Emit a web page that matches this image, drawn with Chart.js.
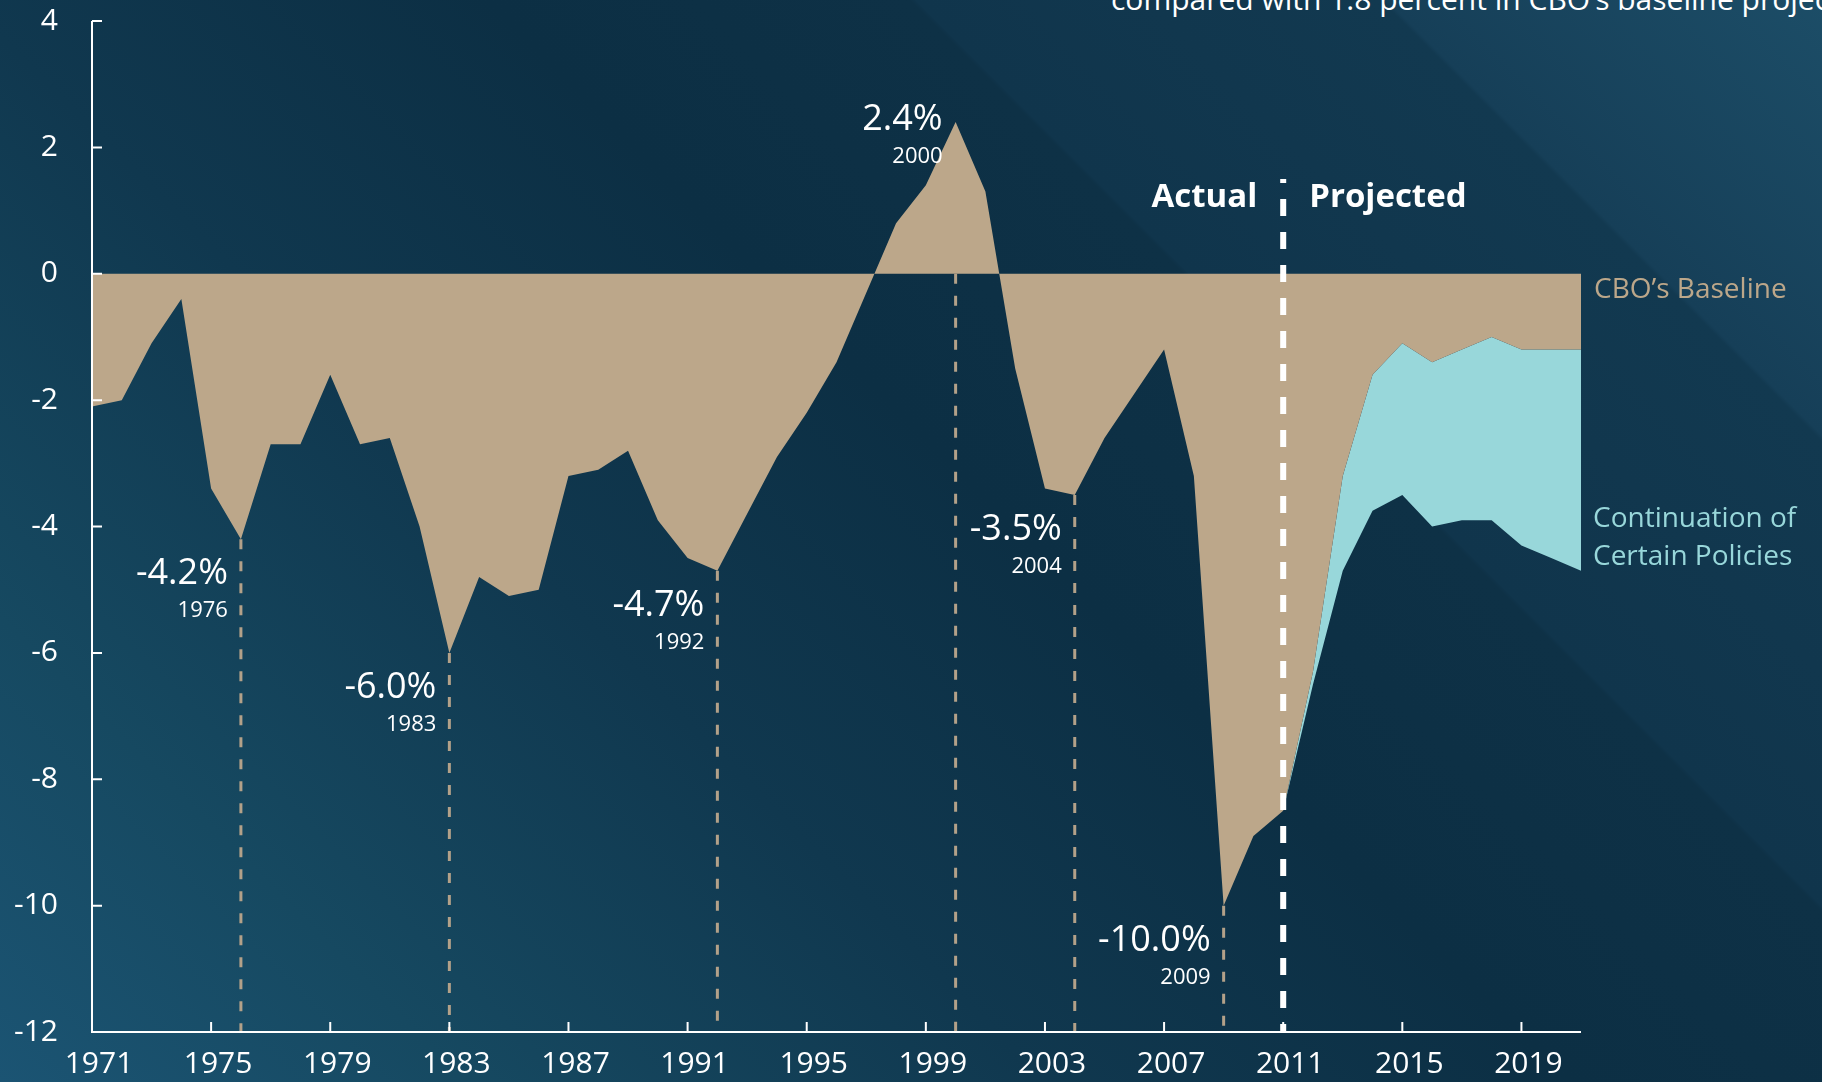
<!DOCTYPE html>
<html>
<head>
<meta charset="utf-8">
<title>Deficit as a share of GDP</title>
<script src="https://cdn.jsdelivr.net/npm/chart.js@4.4.1/dist/chart.umd.min.js"></script>
<style>
html, body { margin: 0; padding: 0; }
body {
    width: 1822px;
    height: 1082px;
    overflow: hidden;
    font-family: "Open Sans", sans-serif;
    background: linear-gradient(45deg, #1b5473 0%, #164961 16%, #10384f 36%, #0c2f44 54%, #0e3146 68.6%, #10354c 68.8%, #123950 84.8%, #163f58 85%, #1c4d67 100%);
}
#wrap { position: relative; width: 1822px; height: 1082px; }
#subtitle {
    position: absolute;
    left: 1111px;
    top: -22px;
    color: #ffffff;
    font-size: 30px;
    white-space: nowrap;
}
canvas { position: absolute; left: 0; top: 0; }
</style>
</head>
<body>
<div id="wrap">
    <div id="subtitle">compared with 1.8 percent in CBO’s baseline projections</div>
    <canvas id="deficit-chart" width="1822" height="1082"></canvas>
</div>
<script>
const years = [
    1971, 1972, 1973, 1974, 1975, 1976, 1977, 1978, 1979, 1980,
    1981, 1982, 1983, 1984, 1985, 1986, 1987, 1988, 1989, 1990,
    1991, 1992, 1993, 1994, 1995, 1996, 1997, 1998, 1999, 2000,
    2001, 2002, 2003, 2004, 2005, 2006, 2007, 2008, 2009, 2010,
    2011, 2012, 2013, 2014, 2015, 2016, 2017, 2018, 2019, 2020, 2021
];

// CBO's baseline, percent of GDP (actual through 2010)
const baseline = [
    -2.1, -2.0, -1.1, -0.4, -3.4, -4.2, -2.7, -2.7, -1.6, -2.7,
    -2.6, -4.0, -6.0, -4.8, -5.1, -5.0, -3.2, -3.1, -2.8, -3.9,
    -4.5, -4.7, -3.8, -2.9, -2.2, -1.4, -0.3, 0.8, 1.4, 2.4,
    1.3, -1.5, -3.4, -3.5, -2.6, -1.9, -1.2, -3.2, -10.0, -8.9,
    -8.5, -6.3, -3.2, -1.6, -1.1, -1.4, -1.2, -1.0, -1.2, -1.2, -1.2
];

// continuation of certain policies, projected years only
const continuation = [
    null, null, null, null, null, null, null, null, null, null,
    null, null, null, null, null, null, null, null, null, null,
    null, null, null, null, null, null, null, null, null, null,
    null, null, null, null, null, null, null, null, null, null,
    -8.5, -6.5, -4.7, -3.75, -3.5, -4.0, -3.9, -3.9, -4.3, -4.5, -4.7
];

const yTicks = [4, 2, 0, -2, -4, -6, -8, -10, -12];

const calloutYears = [1976, 1983, 1992, 2000, 2004, 2009];
const calloutText = ['-4.2%', '-6.0%', '-4.7%', '2.4%', '-3.5%', '-10.0%'];

const firstProjected = 2011;

const TAN = '#bca78a';
const TEAL = '#98d7da';
const FONT = '"Open Sans", sans-serif';

const overlay = {
    id: 'overlay',
    afterDatasetsDraw(chart) {
        const ctx = chart.ctx;
        const area = chart.chartArea;
        const x = chart.scales.x;
        const y = chart.scales.y;
        const zero = y.getPixelForValue(0);

        ctx.save();

        // dashed drop lines under the callouts
        ctx.strokeStyle = '#b3a189';
        ctx.lineWidth = 3;
        ctx.setLineDash([10, 12]);
        calloutYears.forEach(yr => {
            const i = years.indexOf(yr);
            const px = x.getPixelForValue(i);
            const py = Math.max(y.getPixelForValue(baseline[i]), zero);
            ctx.beginPath();
            ctx.moveTo(px, py);
            ctx.lineTo(px, area.bottom);
            ctx.stroke();
        });

        // actual / projected divider
        const dx = x.getPixelForValue(years.indexOf(firstProjected));
        ctx.strokeStyle = '#ffffff';
        ctx.lineWidth = 6;
        ctx.setLineDash([17, 16]);
        ctx.lineDashOffset = 9;
        ctx.beginPath();
        ctx.moveTo(dx, area.bottom);
        ctx.lineTo(dx, y.getPixelForValue(1.5));
        ctx.stroke();
        ctx.setLineDash([]);
        ctx.lineDashOffset = 0;

        // axes with inner ticks
        ctx.strokeStyle = '#ffffff';
        ctx.lineWidth = 2;
        ctx.beginPath();
        ctx.moveTo(area.left, area.top);
        ctx.lineTo(area.left, area.bottom);
        ctx.lineTo(area.right, area.bottom);
        yTicks.forEach(v => {
            const py = y.getPixelForValue(v);
            ctx.moveTo(area.left, py);
            ctx.lineTo(area.left + 10, py);
        });
        years.forEach((yr, i) => {
            if (i > 0 && (yr - years[0]) % 4 === 0) {
                const px = x.getPixelForValue(i);
                ctx.moveTo(px, area.bottom);
                ctx.lineTo(px, area.bottom - 10);
            }
        });
        ctx.stroke();

        ctx.restore();
    },
    afterDraw(chart) {
        const ctx = chart.ctx;
        const area = chart.chartArea;
        const x = chart.scales.x;
        const y = chart.scales.y;

        ctx.save();
        ctx.fillStyle = '#ffffff';
        ctx.textBaseline = 'middle';
        ctx.textAlign = 'right';

        calloutYears.forEach((yr, k) => {
            const i = years.indexOf(yr);
            const px = x.getPixelForValue(i) - 13;
            const py = y.getPixelForValue(baseline[i]);
            const cy = baseline[i] > 0 ? py - 2 : py + 35;
            ctx.font = '36px ' + FONT;
            ctx.fillText(calloutText[k], px, cy);
            ctx.font = '22px ' + FONT;
            ctx.fillText(String(yr), px, cy + 37);
        });

        // actual / projected headings
        const dx = x.getPixelForValue(years.indexOf(firstProjected));
        const hy = y.getPixelForValue(1.2);
        ctx.font = 'bold 33px ' + FONT;
        ctx.textAlign = 'right';
        ctx.fillText('Actual', dx - 26, hy);
        ctx.textAlign = 'left';
        ctx.fillText('Projected', dx + 26, hy);

        // series labels
        ctx.font = '28px ' + FONT;
        ctx.fillStyle = TAN;
        ctx.fillText('CBO’s Baseline', area.right + 13, y.getPixelForValue(-0.26));
        ctx.fillStyle = TEAL;
        const ly = y.getPixelForValue(-3.88);
        ctx.fillText('Continuation of', area.right + 12, ly);
        ctx.fillText('Certain Policies', area.right + 12, ly + 38);

        ctx.restore();
    }
};

const ctx = document.getElementById('deficit-chart').getContext('2d');
const deficitChart = new Chart(ctx, {
    type: 'line',
    data: {
        labels: years,
        datasets: [
            {
                label: 'CBO’s Baseline',
                data: baseline,
                fill: 'origin',
                backgroundColor: TAN,
                borderColor: 'rgba(0,0,0,0)',
                borderWidth: 0,
                pointRadius: 0,
                tension: 0
            },
            {
                label: 'Continuation of Certain Policies',
                data: continuation,
                fill: '-1',
                backgroundColor: TEAL,
                borderColor: 'rgba(0,0,0,0)',
                borderWidth: 0,
                pointRadius: 0,
                tension: 0
            }
        ]
    },
    options: {
        responsive: false,
        maintainAspectRatio: false,
        animation: false,
        devicePixelRatio: 1,
        layout: {
            padding: { left: 0, right: 241, top: 21, bottom: 0 }
        },
        plugins: {
            legend: { display: false },
            tooltip: { enabled: false }
        },
        scales: {
            x: {
                type: 'category',
                offset: false,
                grid: { display: false, drawTicks: false },
                border: { display: false },
                afterFit(scale) {
                    scale.height = 50;
                    scale.paddingLeft = 0;
                    scale.paddingRight = 0;
                },
                ticks: {
                    autoSkip: false,
                    maxRotation: 0,
                    padding: 14,
                    labelOffset: 7,
                    color: '#ffffff',
                    font: { family: FONT, size: 30 },
                    callback: function(val, idx) {
                        const yr = years[idx];
                        return (yr - years[0]) % 4 === 0 ? String(yr) : '';
                    }
                }
            },
            y: {
                min: -12,
                max: 4,
                grid: { display: false, drawTicks: false },
                border: { display: false },
                afterFit(scale) {
                    scale.width = 92;
                    // keep the tick padding from pushing the plot down
                    scale.paddingTop = 0;
                    scale.paddingBottom = 0;
                },
                ticks: {
                    stepSize: 2,
                    padding: 34,
                    color: '#ffffff',
                    font: { family: FONT, size: 30 }
                }
            }
        }
    },
    plugins: [overlay]
});
</script>
</body>
</html>
